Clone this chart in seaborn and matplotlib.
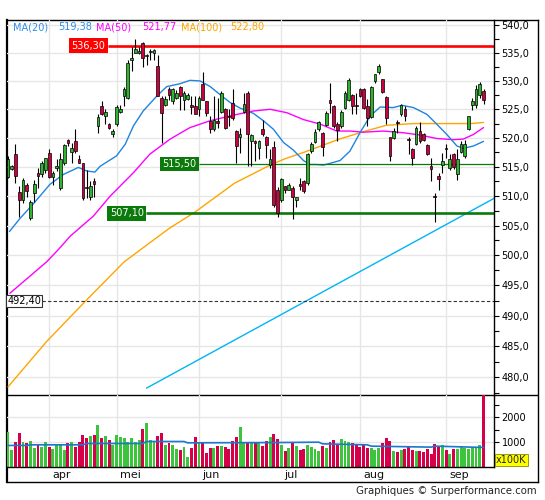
import matplotlib
matplotlib.use("Agg")
import matplotlib.pyplot as plt
import seaborn as sns
import numpy as np
from matplotlib.ticker import FixedLocator, NullFormatter, FuncFormatter

sns.set_style("white")
plt.rcParams['font.family'] = ['DejaVu Sans']

# ---------------- data ----------------
opens = [513.3, 514.7, 517.2, 510.7, 509.3, 511.9, 506.3, 510.6, 513.9, 513.7,
         514.4, 517.4, 513.3, 514.8, 511.4, 515.6, 519.7, 517.6, 519.5, 516.4,
         515.6, 511.5, 509.9, 512.5, 522.1, 525.6, 523.9, 522.4, 520.6, 522.4,
         524.5, 527.3, 527.0, 533.7, 535.0, 535.0, 536.7, 534.4, 535.1, 535.0,
         532.6, 527.0, 525.7, 528.5, 526.4, 527.0, 528.9, 526.7, 526.8, 525.7,
         525.6, 525.0, 529.5, 526.4, 523.0, 521.5, 522.9, 524.5, 525.1, 523.9,
         526.1, 521.2, 520.2, 524.5, 527.9, 519.5, 519.4, 518.3, 521.6, 520.2,
         515.4, 518.5, 511.0, 509.3, 511.7, 511.1, 511.4, 509.3, 512.0, 512.5,
         512.2, 517.7, 519.3, 521.5, 520.9, 522.3, 526.7, 525.6, 522.5, 522.1,
         525.3, 526.7, 527.6, 525.7, 528.6, 528.6, 525.5, 523.6, 529.9, 531.5,
         530.3, 527.2, 520.1, 520.0, 522.8, 524.1, 525.0, 519.9, 518.0, 518.9,
         521.2, 520.6, 518.8, 515.1, 510.0, 513.4, 515.4, 518.2, 514.8, 517.3,
         513.8, 517.6, 516.9, 521.6, 525.7, 525.7, 527.6, 528.3]
highs = [516.9, 515.3, 518.9, 511.7, 513.1, 512.2, 509.3, 512.7, 514.8, 516.0,
         516.6, 518.1, 514.3, 516.3, 517.4, 518.9, 519.9, 519.2, 521.5, 517.0,
         515.7, 514.5, 512.5, 513.1, 524.1, 526.4, 525.0, 522.6, 521.5, 525.8,
         525.8, 529.0, 533.7, 536.0, 537.4, 536.0, 536.9, 534.8, 535.7, 535.7,
         534.7, 527.3, 527.3, 528.9, 528.8, 528.4, 529.1, 528.2, 527.9, 527.3,
         527.3, 527.3, 531.6, 526.5, 523.8, 527.3, 527.0, 528.2, 525.3, 525.0,
         528.5, 521.3, 521.8, 527.8, 528.3, 520.6, 519.6, 519.7, 523.2, 520.4,
         518.0, 519.5, 511.5, 513.1, 511.8, 512.2, 511.7, 509.9, 513.1, 512.8,
         517.4, 519.3, 521.5, 523.0, 521.0, 524.7, 529.6, 525.7, 522.7, 524.9,
         528.2, 530.5, 527.7, 527.9, 528.7, 528.8, 526.8, 529.1, 531.3, 533.0,
         530.4, 527.4, 520.2, 521.8, 523.2, 525.9, 525.6, 520.1, 518.3, 522.1,
         522.8, 520.8, 518.9, 516.5, 510.5, 514.0, 517.4, 518.9, 517.2, 517.4,
         518.1, 519.4, 519.6, 523.9, 527.0, 529.2, 529.8, 528.5]
lows = [513.0, 514.5, 512.2, 506.4, 508.8, 509.9, 506.0, 509.0, 511.4, 513.3,
        514.0, 513.1, 511.9, 514.3, 511.1, 515.4, 518.6, 515.7, 517.4, 515.6,
        509.3, 509.6, 509.3, 509.9, 520.9, 524.0, 522.4, 521.5, 520.1, 522.1,
        524.4, 525.5, 526.8, 531.7, 535.0, 534.8, 532.5, 532.8, 533.7, 533.8,
        527.3, 519.2, 525.5, 526.7, 525.9, 526.8, 524.9, 524.9, 526.6, 524.1,
        524.1, 523.8, 526.6, 523.8, 520.9, 521.2, 521.8, 524.4, 521.5, 522.1,
        523.2, 515.7, 517.4, 524.3, 515.1, 515.2, 516.0, 516.3, 520.4, 516.6,
        514.8, 508.2, 506.4, 509.0, 510.5, 511.1, 506.1, 508.2, 511.1, 510.5,
        511.9, 517.4, 519.2, 521.2, 516.9, 522.1, 524.4, 521.8, 519.5, 521.8,
        525.0, 526.4, 524.1, 524.1, 527.2, 525.0, 522.1, 523.4, 529.7, 531.3,
        527.9, 522.4, 516.0, 519.8, 520.9, 523.8, 523.0, 517.2, 515.4, 518.7,
        519.2, 519.4, 517.1, 512.5, 505.6, 511.1, 514.0, 516.6, 514.5, 514.6,
        512.7, 517.4, 516.6, 521.4, 524.9, 525.2, 527.0, 525.9]
closes = [516.3, 515.1, 513.4, 509.3, 512.7, 510.8, 509.0, 512.1, 513.4, 515.7,
          516.5, 513.3, 514.0, 515.1, 516.4, 518.7, 519.2, 518.3, 517.7, 515.7,
          509.6, 511.3, 511.7, 512.1, 523.7, 524.1, 524.5, 521.8, 521.2, 525.4,
          525.1, 528.5, 533.1, 534.1, 535.7, 535.4, 534.0, 534.7, 535.4, 535.5,
          527.4, 524.4, 526.8, 527.6, 528.5, 527.9, 527.3, 527.9, 527.6, 525.4,
          524.1, 527.0, 526.7, 524.4, 521.5, 523.2, 522.6, 527.9, 521.8, 523.7,
          523.5, 518.6, 520.6, 525.9, 520.6, 520.5, 519.2, 519.5, 520.6, 518.7,
          516.3, 508.5, 507.2, 512.9, 511.0, 511.9, 509.8, 509.8, 511.8, 510.8,
          517.2, 518.9, 521.1, 522.7, 518.5, 524.4, 526.1, 522.1, 521.3, 524.6,
          527.9, 530.2, 525.6, 525.5, 527.3, 525.3, 523.5, 528.9, 531.2, 532.7,
          528.0, 523.5, 516.9, 521.2, 522.6, 525.7, 523.8, 519.7, 516.6, 521.8,
          519.4, 519.7, 517.3, 514.7, 509.8, 512.9, 516.0, 518.0, 516.3, 514.9,
          516.4, 518.9, 518.9, 523.8, 526.5, 528.6, 529.4, 526.7]
volumes = [1400, 680, 1000, 1350, 1000, 950, 1040, 750, 880, 790,
           990, 790, 710, 890, 890, 670, 950, 1000, 790, 1000,
           1270, 1170, 1240, 1300, 1700, 1150, 1230, 1100, 900, 1270,
           1200, 1150, 1020, 1150, 1000, 1070, 1550, 1790, 1070, 1030,
           1230, 1350, 870, 950, 870, 710, 670, 800, 400, 750,
           1190, 950, 950, 550, 750, 770, 830, 850, 800, 740,
           1050, 1190, 1630, 970, 970, 1000, 1000, 1000, 840, 1040,
           1200, 1310, 1110, 870, 640, 770, 950, 840, 680, 710,
           870, 810, 710, 640, 840, 770, 1000, 1070, 930, 1110,
           1040, 1010, 970, 880, 800, 880, 770, 770, 680, 750,
           950, 1150, 1040, 640, 600, 680, 710, 840, 680, 640,
           640, 600, 710, 510, 910, 810, 870, 680, 510, 710,
           730, 800, 750, 730, 810, 750, 880, 2950]

ma20_x = [0.4, 3.2, 6.8, 11.2, 14.8, 18.8, 21.0, 23.2, 24.6, 29.0, 31.3, 33.5,
          36.1, 39.7, 42.4, 45.9, 48.6, 51.3, 54.0, 56.6, 59.3, 62.0, 65.5,
          68.2, 70.9, 73.6, 76.2, 78.9, 80.7, 82.5, 84.2, 86.0, 88.7, 91.3,
          94.0, 96.7, 99.4, 102.9, 105.2, 108.3, 111.9, 114.5, 117.2, 119.9,
          121.7, 124.3, 127.0]
ma20_y = [504.0, 506.2, 508.7, 512.0, 513.7, 514.9, 514.3, 514.1, 515.1, 516.9,
          518.9, 522.1, 524.7, 527.3, 529.0, 529.5, 530.1, 530.0, 529.0, 527.6,
          526.2, 525.2, 524.3, 523.0, 521.5, 519.2, 517.9, 516.1, 515.4, 515.4,
          515.3, 515.6, 516.1, 517.7, 520.9, 523.8, 525.4, 525.3, 525.7, 525.3,
          524.1, 522.4, 520.6, 518.6, 518.2, 518.6, 519.4]
ma50_x = [0.5, 4.1, 10.3, 13.5, 16.6, 22.8, 27.3, 33.5, 37.9, 43.3, 48.6, 54.0,
          61.1, 65.5, 70.0, 74.5, 78.9, 83.4, 87.8, 91.4, 94.9, 100.3, 105.6,
          110.1, 114.5, 119.0, 121.6, 124.3, 127.0]
ma50_y = [493.7, 495.6, 498.9, 501.0, 503.2, 506.6, 510.0, 514.0, 517.2, 519.8,
          521.8, 523.0, 524.1, 524.7, 525.0, 524.4, 523.2, 522.4, 521.2, 521.2,
          521.0, 521.2, 520.9, 520.5, 519.9, 519.7, 519.8, 520.6, 521.8]
ma100_x = [0.0, 10.3, 21.0, 31.0, 43.0, 50.0, 60.5, 70.0, 74.0, 79.0, 88.5,
           95.0, 101.0, 108.3, 116.5, 123.7, 127.0]
ma100_y = [478.5, 485.8, 492.6, 498.9, 504.5, 507.3, 512.2, 515.3, 516.4, 517.5,
           519.8, 521.1, 522.2, 522.5, 522.5, 522.5, 522.7]
volma_x = [0, 5, 6, 20, 21, 36, 37, 47, 48, 72, 83, 84, 96, 97, 113, 114, 127]
volma_y = [868, 868, 893, 893, 947, 947, 1027, 1027, 973, 985, 1000, 933, 893,
           840, 800, 840, 787]
trend_x = [37.0, 129.8]
trend_y = [478.3, 509.6]

month_labels = ['apr', 'mei', 'jun', 'jul', 'aug', 'sep']
month_pos = [11, 29, 51, 73, 94, 117]
price_ticks = [480, 485, 490, 495, 500, 505, 510, 515, 520, 525, 530, 535, 540]
vol_ticks = [1000, 2000]
levels = [536.30, 515.50, 507.10, 492.40]
level_labels = ['536,30', '515,50', '507,10', '492,40']
level_start = [26.7, 51.0, 36.9, 9.1]
ma_names = ['MA(20)', 'MA(50)', 'MA(100)']
ma_values = ['519,38', '521,77', '522,80']

# ---------------- layout ----------------
W, H = 545, 500
fig = plt.figure(figsize=(W / 100, H / 100), dpi=100)
fig.patch.set_facecolor('white')


def rect(l, t, r, b):
    return [l / W, 1 - b / H, (r - l) / W, (b - t) / H]


frame = fig.add_axes(rect(7, 20, 538, 482))
frame.set_xticks([]); frame.set_yticks([])
frame.set_xlim(0, 1); frame.set_ylim(0, 1)
for s in frame.spines.values():
    s.set_visible(True); s.set_color('black'); s.set_linewidth(1.0)
frame.spines['left'].set_linewidth(1.6)
frame.axhline((482 - 395) / (482 - 20), xmin=(494 - 7) / (538 - 7), xmax=1,
              color='black', lw=1.0)

ax = fig.add_axes(rect(7, 20, 494, 395))
vax = fig.add_axes(rect(7, 395, 494, 467), sharex=ax)
for a in (ax, vax):
    a.set_facecolor('none')
    for k in ('top', 'left'):
        a.spines[k].set_visible(False)
    for k in ('right', 'bottom'):
        a.spines[k].set_visible(True)
        a.spines[k].set_color('black')
        a.spines[k].set_linewidth(1.0)

GREEN_C, RED_C = '#2db52d', '#d0003f'
GREEN_V, RED_V = '#3cc43c', '#d6004a'
idx = np.arange(len(closes))
o = np.array(opens); c = np.array(closes)
up = c >= o

# price panel
ax.set_yscale('log')
ax.set_ylim(477.2, 540.9)
ax.set_xlim(-0.27, 129.8)
ax.set_xticks(month_pos)
ax.grid(True, which='major', color='#e6e6e6', lw=1.0, zorder=0)
ax.set_axisbelow(True)

sns.lineplot(x=ma100_x, y=ma100_y, ax=ax, color='#ffa500', lw=1.0, sort=False, estimator=None, zorder=2)
sns.lineplot(x=ma50_x, y=ma50_y, ax=ax, color='#ff00ff', lw=1.0, sort=False, estimator=None, zorder=2)
sns.lineplot(x=ma20_x, y=ma20_y, ax=ax, color='#1f84e0', lw=1.0, sort=False, estimator=None, zorder=2)
sns.lineplot(x=trend_x, y=trend_y, ax=ax, color='#00b4f5', lw=1.0, sort=False, estimator=None, zorder=2)

lv_colors = ['#ff0000', '#0a7a0a', '#0a7a0a', '#333333']
lv_widths = [1.9, 0.9, 1.9, 0.8]
lv_styles = ['solid', 'solid', 'solid', (0, (3, 2))]
for lv, lab, xs, col, lw, ls in zip(levels, level_labels, level_start, lv_colors, lv_widths, lv_styles):
    ax.hlines(lv, xs, 129.8, colors=col, lw=lw, linestyles=ls, zorder=2.5)
    if col == '#333333':
        ax.text(xs - 0.3, lv, lab, color='black', fontsize=7, ha='right', va='center', zorder=5,
                bbox=dict(boxstyle='square,pad=0.12', fc='white', ec='#333333', lw=0.8))
    else:
        ax.text(xs - 0.65, lv, lab, color='white', fontsize=7, ha='right', va='center', zorder=5,
                bbox=dict(boxstyle='square,pad=0.25', fc=col, ec='none'))

# candles
ax.vlines(idx, lows, highs, colors='black', lw=0.8, zorder=3)
body_bottom = np.minimum(o, c)
body_h = np.maximum(np.abs(c - o), 0.12)
ax.bar(idx, body_h, bottom=body_bottom, width=0.72,
       color=[GREEN_C if u else RED_C for u in up], edgecolor='black', linewidth=0.5, zorder=3.5)

ax.yaxis.tick_right()
ax.yaxis.set_major_locator(FixedLocator(price_ticks))
ax.yaxis.set_major_formatter(FuncFormatter(lambda v, p: f"{v:.1f}".replace('.', ',')))
ax.yaxis.set_minor_locator(FixedLocator([t + 2.5 for t in price_ticks[:-1]] + [477.5]))
ax.yaxis.set_minor_formatter(NullFormatter())
ax.tick_params(axis='y', which='both', right=True, left=False, direction='out',
               length=3.5, width=0.8, colors='black', labelsize=7, pad=2)
ax.tick_params(axis='x', bottom=False, labelbottom=False, top=False)
ax.set_xlabel(''); ax.set_ylabel('')

# volume panel
vax.set_ylim(0, 2900)
vax.grid(True, which='major', color='#e6e6e6', lw=1.0, zorder=0)
vax.set_axisbelow(True)
vax.bar(idx, volumes, width=0.78, color=[GREEN_V if u else RED_V for u in up], linewidth=0, zorder=2)
sns.lineplot(x=volma_x, y=volma_y, ax=vax, color='#1a78d0', lw=1.2, sort=False, estimator=None, zorder=3)
vax.yaxis.tick_right()
vax.yaxis.set_major_locator(FixedLocator(vol_ticks))
vax.yaxis.set_major_formatter(FuncFormatter(lambda v, p: f"{int(v)}"))
vax.yaxis.set_minor_locator(FixedLocator([500, 1500, 2500]))
vax.yaxis.set_minor_formatter(NullFormatter())
vax.tick_params(axis='y', which='both', right=True, left=False, direction='out',
                length=3.5, width=0.8, colors='black', labelsize=7, pad=2)
vax.tick_params(axis='x', bottom=False, labelbottom=False)
vax.set_xlabel(''); vax.set_ylabel('')
vax.text(1.004, 0.025, 'x100K', transform=vax.transAxes, fontsize=7, ha='left', va='bottom',
         bbox=dict(boxstyle='square,pad=0.12', fc='#ffff00', ec='#888800', lw=0.6))

for m, lab in zip(month_pos, month_labels):
    vax.annotate(lab, xy=(m, 0), xycoords=('data', 'axes fraction'), xytext=(3, -7.5),
                 textcoords='offset pixels', ha='left', va='center', fontsize=8, color='#111111')

# legend text
ma_cols = ['#2f8ee8', '#ff00ff', '#ffa500']
name_x = [13, 96, 181]
val_x = [58, 142, 230]
for nm, vl, col, nx, vx in zip(ma_names, ma_values, ma_cols, name_x, val_x):
    fig.text(nx / W, 1 - 27 / H, nm, color=col, fontsize=7, ha='left', va='center')
    fig.text(vx / W, 1 - 27 / H, vl, color=col, fontsize=7, ha='left', va='center')

fig.text(537 / W, 1 - 491 / H, 'Graphiques © Surperformance.com', fontsize=7.3,
         ha='right', va='center', color='#222222')

fig.savefig('out.png', dpi=100, facecolor='white')
